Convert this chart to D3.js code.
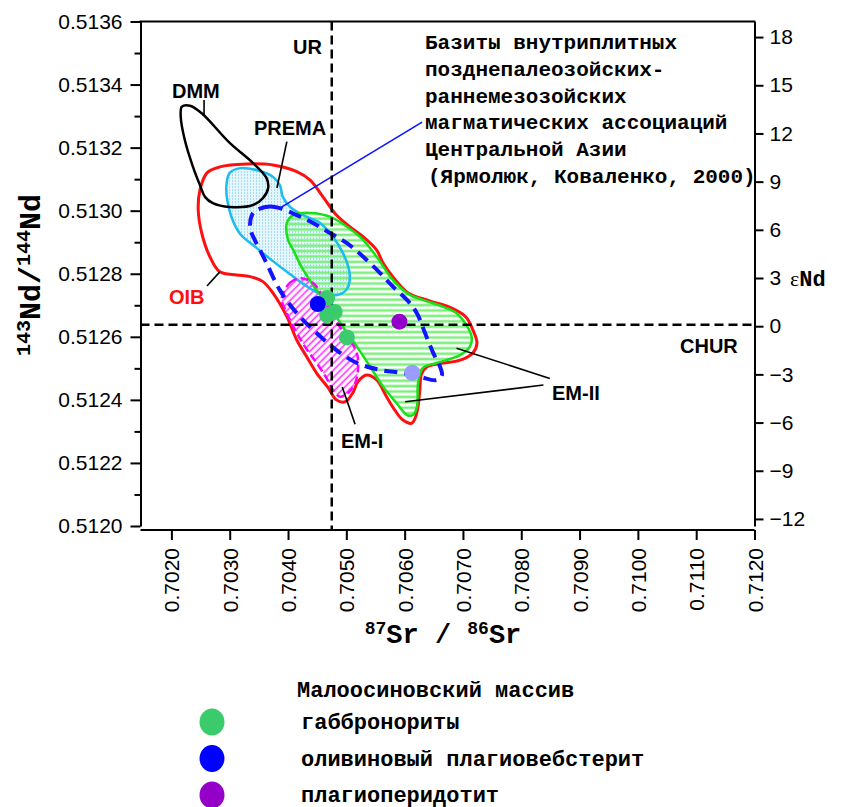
<!DOCTYPE html>
<html lang="ru">
<head>
<meta charset="UTF-8">
<title>87Sr/86Sr - 143Nd/144Nd</title>
<script src="https://cdn.jsdelivr.net/npm/d3@7"></script>
<style>
  body { margin: 0; background: #fff; }
  svg { display: block; }
  .mono { font-family: "Liberation Mono", "Courier New", monospace; font-weight: bold; }
  .sans { font-family: "Liberation Sans", Arial, sans-serif; }
  .lbl { font-family: "Liberation Sans", Arial, sans-serif; font-weight: bold; font-size: 20px; }
</style>
</head>
<body>
<div id="chart"></div>
<script>
var width = 850, height = 807;

// axis ticks
var srTicks = [0.7020, 0.7030, 0.7040, 0.7050, 0.7060, 0.7070, 0.7080, 0.7090, 0.7100, 0.7110, 0.7120];
var ndTicks = [0.5120, 0.5121, 0.5122, 0.5123, 0.5124, 0.5125, 0.5126, 0.5127, 0.5128,
               0.5129, 0.5130, 0.5131, 0.5132, 0.5133, 0.5134, 0.5135, 0.5136];
var epsTicks = [-12, -9, -6, -3, 0, 3, 6, 9, 12, 15, 18];

// reference values
var UR = 0.70475;
var CHUR = 0.512638;

// fields [87Sr/86Sr, 143Nd/144Nd]
var dmmField = [[0.70218,0.513330],[0.70232,0.513333],[0.70252,0.513309],[0.70300,0.513215],[0.70340,0.513151],
  [0.70363,0.513104],[0.70366,0.513072],[0.70357,0.513040],[0.70340,0.513018],[0.70300,0.513012],[0.70271,0.513024],
  [0.70258,0.513043],[0.70249,0.513081],[0.70237,0.513139],[0.70223,0.513224],[0.70216,0.513298]];

var oibField = [[0.70246,0.513002],[0.70249,0.513066],[0.70261,0.513120],[0.70283,0.513139],[0.70329,0.513148],
  [0.70374,0.513145],[0.70415,0.513124],[0.70438,0.513097],[0.70460,0.513044],[0.70483,0.512986],[0.70506,0.512949],
  [0.70529,0.512917],[0.70552,0.512875],[0.70563,0.512834],[0.70580,0.512790],[0.70606,0.512739],[0.70643,0.512714],
  [0.70681,0.512691],[0.70705,0.512663],[0.70717,0.512622],[0.70724,0.512580],[0.70717,0.512549],[0.70695,0.512526],
  [0.70661,0.512515],[0.70638,0.512504],[0.70629,0.512482],[0.70626,0.512431],[0.70623,0.512378],[0.70618,0.512342],
  [0.70612,0.512326],[0.70597,0.512336],[0.70583,0.512368],[0.70569,0.512410],[0.70552,0.512463],[0.70535,0.512479],
  [0.70520,0.512458],[0.70511,0.512422],[0.70498,0.512394],[0.70483,0.512400],[0.70469,0.512438],[0.70449,0.512485],
  [0.70432,0.512537],[0.70415,0.512590],[0.70398,0.512664],[0.70374,0.512739],[0.70357,0.512775],[0.70335,0.512791],
  [0.70312,0.512796],[0.70283,0.512806],[0.70266,0.512854],[0.70252,0.512929]];

var emiiField = [[0.70398,0.512961],[0.70409,0.512986],[0.70438,0.512993],[0.70472,0.512981],[0.70501,0.512949],
  [0.70529,0.512907],[0.70552,0.512854],[0.70580,0.512780],[0.70609,0.512733],[0.70631,0.512717],[0.70666,0.512695],
  [0.70689,0.512675],[0.70706,0.512637],[0.70715,0.512600],[0.70712,0.512569],[0.70695,0.512542],[0.70655,0.512517],
  [0.70631,0.512501],[0.70623,0.512453],[0.70621,0.512378],[0.70614,0.512352],[0.70604,0.512352],[0.70586,0.512390],
  [0.70563,0.512442],[0.70541,0.512505],[0.70518,0.512569],[0.70494,0.512632],[0.70472,0.512695],[0.70449,0.512748],
  [0.70423,0.512822],[0.70409,0.512875],[0.70400,0.512907]];

var premaField = [[0.70300,0.513120],[0.70318,0.513135],[0.70346,0.513129],[0.70374,0.513108],[0.70386,0.513081],
  [0.70391,0.513044],[0.70403,0.513013],[0.70426,0.512986],[0.70455,0.512961],[0.70477,0.512917],[0.70494,0.512866],
  [0.70503,0.512825],[0.70506,0.512790],[0.70503,0.512758],[0.70494,0.512739],[0.70477,0.512731],[0.70455,0.512736],
  [0.70429,0.512764],[0.70403,0.512799],[0.70374,0.512840],[0.70346,0.512882],[0.70318,0.512926],[0.70303,0.512980],
  [0.70295,0.513043],[0.70295,0.513091]];

var caField = [[0.70346,0.513002],[0.70369,0.513013],[0.70386,0.513008],[0.70415,0.512986],[0.70443,0.512961],
  [0.70472,0.512929],[0.70501,0.512897],[0.70529,0.512854],[0.70558,0.512802],[0.70580,0.512759],[0.70604,0.512717],
  [0.70621,0.512675],[0.70635,0.512612],[0.70649,0.512549],[0.70661,0.512504],[0.70664,0.512479],[0.70655,0.512463],
  [0.70626,0.512473],[0.70597,0.512485],[0.70558,0.512495],[0.70518,0.512517],[0.70483,0.512558],[0.70449,0.512612],
  [0.70415,0.512675],[0.70386,0.512748],[0.70363,0.512834],[0.70352,0.512875],[0.70343,0.512907],[0.70335,0.512945],
  [0.70338,0.512986]];

var emiField = [[0.70392,0.512738],[0.70403,0.512771],[0.70421,0.512786],[0.70443,0.512771],[0.70460,0.512727],
  [0.70472,0.512685],[0.70489,0.512632],[0.70506,0.512590],[0.70518,0.512549],[0.70520,0.512495],[0.70515,0.512453],
  [0.70503,0.512422],[0.70489,0.512410],[0.70477,0.512431],[0.70466,0.512469],[0.70449,0.512517],[0.70429,0.512569],
  [0.70412,0.512622],[0.70398,0.512675],[0.70389,0.512717]];

// samples
var gabbronorites = [[0.70467,0.512723],[0.70480,0.512679],[0.70467,0.512669],[0.70501,0.512598]];
var websterite = [[0.70451,0.512704]];
var peridotite = [[0.70591,0.512648]];
var otherSample = [[0.70613,0.512486]];

// leader lines
var leaders = [
  [[0.70256,0.513351],[0.70256,0.513303]],   // DMM
  [[0.70398,0.513219],[0.70381,0.513072]],   // PREMA
  [[0.70261,0.512761],[0.70283,0.512806]],   // OIB
  [[0.70849,0.512468],[0.70689,0.512564]],   // EM-II
  [[0.70838,0.512447],[0.70601,0.512394]],   // EM-II
  [[0.70515,0.512323],[0.70493,0.512441]]    // EM-I
];
var caLeader = [[0.70386,0.513008],[0.70630,0.513281]];

var noteLines = ['Базиты внутриплитных', 'позднепалеозойских-', 'раннемезозойских',
  'магматических ассоциаций', 'Центральной Азии', '(Ярмолюк, Коваленко, 2000)'];
var legendItems = [
  {name: 'габбронориты', color: '#3ccb6c'},
  {name: 'оливиновый плагиовебстерит', color: '#0000ff'},
  {name: 'плагиоперидотит', color: '#9400c8'}
];

var svg = d3.select('#chart').append('svg')
  .attr('width', width)
  .attr('height', height);

var x = d3.scaleLinear().domain([0.70147, 0.7120]).range([140.5, 754.5]);
var y = d3.scaleLinear().domain([0.5120, 0.5136]).range([526, 21.5]);
var yEps = d3.scaleLinear().domain([-12.44, 18.97]).range([526, 21.5]);

// patterns
var defs = svg.append('defs');
var pg = defs.append('pattern').attr('id', 'greenHatch')
  .attr('patternUnits', 'userSpaceOnUse').attr('width', 8).attr('height', 5.4);
pg.append('line').attr('x1', 0).attr('x2', 8).attr('y1', 2.7).attr('y2', 2.7)
  .attr('stroke', '#7ef07e').attr('stroke-width', 2.6);

var pb = defs.append('pattern').attr('id', 'blueDots')
  .attr('patternUnits', 'userSpaceOnUse').attr('width', 3).attr('height', 3);
pb.append('rect').attr('width', 3).attr('height', 3).attr('fill', '#e6f6fd');
pb.append('rect').attr('x', 1).attr('y', 0).attr('width', 1).attr('height', 2).attr('fill', '#a6dcf3');

var pm = defs.append('pattern').attr('id', 'magHatch')
  .attr('patternUnits', 'userSpaceOnUse').attr('width', 5).attr('height', 5)
  .attr('patternTransform', 'rotate(45)');
pm.append('line').attr('x1', 2.5).attr('x2', 2.5).attr('y1', 0).attr('y2', 5)
  .attr('stroke', '#ff2bff').attr('stroke-width', 1.6);

var shape = d3.line()
  .x(function(d) { return x(d[0]); })
  .y(function(d) { return y(d[1]); })
  .curve(d3.curveCatmullRomClosed.alpha(0.5));

var seg = d3.line()
  .x(function(d) { return x(d[0]); })
  .y(function(d) { return y(d[1]); });

// fills
svg.append('path').attr('d', shape(premaField)).attr('fill', 'url(#blueDots)');
svg.append('path').attr('d', shape(emiiField)).attr('fill', 'url(#greenHatch)');
svg.append('path').attr('d', shape(emiField)).attr('fill', 'url(#magHatch)');

// outlines
svg.append('path').attr('d', shape(oibField)).attr('fill', 'none')
  .attr('stroke', '#ff1010').attr('stroke-width', 3);
svg.append('path').attr('d', shape(premaField)).attr('fill', 'none')
  .attr('stroke', '#1cbcec').attr('stroke-width', 2.5);
svg.append('path').attr('d', shape(emiiField)).attr('fill', 'none')
  .attr('stroke', '#18e018').attr('stroke-width', 2.5);
svg.append('path').attr('d', shape(emiField)).attr('fill', 'none')
  .attr('stroke', '#ff00ff').attr('stroke-width', 2.5).attr('stroke-dasharray', '8,4');
svg.append('path').attr('d', shape(dmmField)).attr('fill', 'none')
  .attr('stroke', '#000').attr('stroke-width', 2.5);
svg.append('path').attr('d', shape(caField)).attr('fill', 'none')
  .attr('stroke', '#1414ff').attr('stroke-width', 4).attr('stroke-dasharray', '13,7');

// leaders
svg.selectAll('.leader').data(leaders).enter().append('path')
  .attr('class', 'leader')
  .attr('d', seg).attr('stroke', '#000').attr('stroke-width', 1.6).attr('fill', 'none');
svg.append('path').attr('d', seg(caLeader)).attr('stroke', '#0a14ff').attr('stroke-width', 1.6);

// UR and CHUR
svg.append('line')
  .attr('x1', x(UR)).attr('x2', x(UR)).attr('y1', 21.5).attr('y2', 530)
  .attr('stroke', '#000').attr('stroke-width', 2.5).attr('stroke-dasharray', '9,5');
svg.append('line')
  .attr('x1', 140.5).attr('x2', 754.5).attr('y1', y(CHUR)).attr('y2', y(CHUR))
  .attr('stroke', '#000').attr('stroke-width', 2.5).attr('stroke-dasharray', '9,5');

// samples
function dots(data, color) {
  svg.append('g').selectAll('circle').data(data).enter().append('circle')
    .attr('cx', function(d) { return x(d[0]); })
    .attr('cy', function(d) { return y(d[1]); })
    .attr('r', 8)
    .attr('fill', color);
}
dots(gabbronorites, '#3ccb6c');
dots(websterite, '#0000ff');
dots(peridotite, '#9400c8');
dots(otherSample, '#9a9cff');

// axes
var gy = svg.append('g').attr('transform', 'translate(140.5,0)')
  .call(d3.axisLeft(y).tickValues(ndTicks).tickSize(10).tickSizeOuter(0).tickPadding(8)
    .tickFormat(function(d, i) { return i % 2 === 0 ? d.toFixed(4) : ''; }));
gy.selectAll('.tick').filter(function(d, i) { return i % 2 === 1; }).select('line').attr('x2', -6);

var gx = svg.append('g').attr('transform', 'translate(0,530)')
  .call(d3.axisBottom(x).tickValues(srTicks).tickSize(10).tickSizeOuter(0)
    .tickFormat(d3.format('.4f')));
gx.select('.domain').attr('d', 'M140.5,0H754.5');
gx.selectAll('.tick text')
  .attr('transform', 'rotate(-90)')
  .attr('x', -18).attr('y', 0).attr('dy', '0.36em')
  .style('text-anchor', 'end');

var ge = svg.append('g').attr('transform', 'translate(754.5,0)')
  .call(d3.axisRight(yEps).tickValues(epsTicks).tickSize(9).tickSizeOuter(0).tickPadding(6));

svg.selectAll('.domain').attr('stroke', '#000').attr('stroke-width', 2);
svg.selectAll('.tick line').attr('stroke', '#000').attr('stroke-width', 2);
svg.selectAll('.tick text')
  .attr('font-family', '"Liberation Sans", Arial, sans-serif')
  .attr('font-size', 21).attr('fill', '#000');

svg.append('line').attr('x1', 139.5).attr('x2', 755.5).attr('y1', 21.5).attr('y2', 21.5)
  .attr('stroke', '#000').attr('stroke-width', 2);

// axis titles
var yt = svg.append('text').attr('class', 'mono')
  .attr('transform', 'translate(40,275) rotate(-90)')
  .attr('text-anchor', 'middle').attr('font-size', 30);
yt.append('tspan').attr('font-size', 20).attr('dy', -10).text('143');
yt.append('tspan').attr('dy', 10).text('Nd/');
yt.append('tspan').attr('font-size', 20).attr('dy', -10).text('144');
yt.append('tspan').attr('dy', 10).text('Nd');

var xt = svg.append('text').attr('class', 'mono')
  .attr('x', 443).attr('y', 643)
  .attr('text-anchor', 'middle').attr('font-size', 27);
xt.append('tspan').attr('font-size', 18).attr('dy', -9).text('87');
xt.append('tspan').attr('dy', 9).text('Sr / ');
xt.append('tspan').attr('font-size', 18).attr('dy', -9).text('86');
xt.append('tspan').attr('dy', 9).text('Sr');

var et = svg.append('text').attr('x', 790).attr('y', 286);
et.append('tspan').attr('font-family', '"Liberation Serif", "Times New Roman", serif')
  .attr('font-size', 22).text('ε');
et.append('tspan').attr('class', 'mono').attr('font-size', 22).text('Nd');

// field labels
var labels = [
  {t: 'UR', x: 293, y: 54, c: '#000'},
  {t: 'DMM', x: 172, y: 98, c: '#000'},
  {t: 'PREMA', x: 254, y: 135, c: '#000'},
  {t: 'OIB', x: 169, y: 304, c: '#ff1010'},
  {t: 'CHUR', x: 680, y: 353, c: '#000'},
  {t: 'EM-II', x: 552, y: 400, c: '#000'},
  {t: 'EM-I', x: 341, y: 448, c: '#000'}
];
svg.selectAll('.lbl').data(labels).enter().append('text')
  .attr('class', 'lbl')
  .attr('x', function(d) { return d.x; })
  .attr('y', function(d) { return d.y; })
  .attr('fill', function(d) { return d.c; })
  .text(function(d) { return d.t; });

// note
svg.append('g').selectAll('text').data(noteLines).enter().append('text')
  .attr('class', 'mono').attr('font-size', 21)
  .attr('x', function(d, i) { return i === 5 ? 428 : 425; })
  .attr('y', function(d, i) { return 49 + i * 26.8; })
  .text(function(d) { return d; });

// legend
svg.append('text').attr('class', 'mono').attr('font-size', 22)
  .attr('x', 297).attr('y', 697).text('Малоосиновский массив');
var lg = svg.append('g').selectAll('g').data(legendItems).enter().append('g')
  .attr('transform', function(d, i) { return 'translate(0,' + (722 + i * 36.5) + ')'; });
lg.append('ellipse').attr('cx', 212).attr('cy', 0).attr('rx', 12.5).attr('ry', 13.5)
  .attr('fill', function(d) { return d.color; });
lg.append('text').attr('class', 'mono').attr('font-size', 22)
  .attr('x', 301).attr('y', 7).text(function(d) { return d.name; });
</script>
</body>
</html>
